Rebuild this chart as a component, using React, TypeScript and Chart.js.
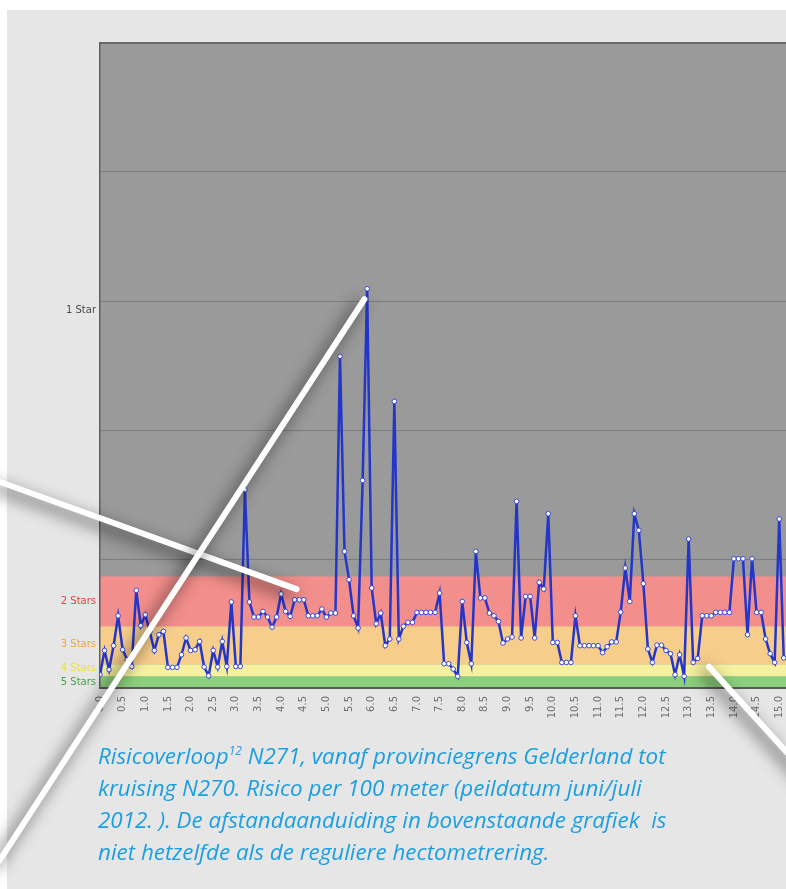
import { useEffect, useRef } from "react";
import { Chart, registerables } from "chart.js";

Chart.register(...registerables);

// distance step between measurement points (km)
const STEP_KM = 0.1;

// risk per 100 m segment (chart units)
const RISK = [
  1.03, 2.91, 1.42, 3.28, 5.6, 2.97, 2.19, 1.67, 7.57, 4.83,
  5.68, 4.36, 2.91, 4.13, 4.39, 1.6, 1.6, 1.6, 2.58, 3.88,
  2.91, 2.97, 3.61, 1.63, 0.95, 2.91, 1.63, 3.61, 1.67, 6.67,
  1.67, 1.67, 15.37, 6.67, 5.5, 5.5, 5.94, 5.5, 4.71, 5.5,
  7.29, 5.94, 5.55, 6.84, 6.84, 6.84, 5.6, 5.6, 5.6, 6.12,
  5.5, 5.81, 5.81, 25.71, 10.59, 8.4, 5.6, 4.65, 16.09, 30.95,
  7.75, 4.98, 5.81, 3.28, 3.8, 22.22, 3.8, 4.78, 5.09, 5.09,
  5.86, 5.86, 5.86, 5.86, 5.86, 7.36, 1.88, 1.88, 1.47, 0.9,
  6.71, 3.53, 1.88, 10.59, 6.98, 6.98, 5.81, 5.6, 5.16, 3.49,
  3.8, 3.95, 14.47, 3.88, 7.1, 7.1, 3.88, 8.19, 7.67, 13.51,
  3.53, 3.53, 1.98, 1.98, 1.98, 5.6, 3.28, 3.28, 3.28, 3.28,
  3.28, 2.74, 3.2, 3.57, 3.57, 5.88, 9.3, 6.71, 13.51, 12.22,
  8.09, 3.02, 1.98, 3.32, 3.32, 2.91, 2.66, 1.03, 2.58, 0.9,
  11.55, 1.98, 2.29, 5.6, 5.6, 5.6, 5.86, 5.86, 5.86, 5.86,
  10.02, 10.02, 10.02, 4.13, 10.02, 5.86, 5.86, 3.8, 2.66, 1.98,
  13.1, 2.33,
];

const X_TICKS = [
  0, 0.5, 1, 1.5, 2, 2.5, 3, 3.5, 4, 4.5, 5, 5.5, 6, 6.5, 7, 7.5, 8, 8.5,
  9, 9.5, 10, 10.5, 11, 11.5, 12, 12.5, 13, 13.5, 14, 14.5, 15,
];
const X_MAX = 15.15;
const Y_MAX = 50;

const GRID_LEVELS = [10, 20, 30, 40];
const STAR_LABELS = ["1 Star", "2 Stars", "3 Stars", "4 Stars", "5 Stars"];
const STAR_LABEL_LEVELS = [29.25, 6.71, 3.36, 1.55, 0.43];
const STAR_LABEL_COLORS = ["#4a4a4a", "#e2443e", "#f0a43c", "#ece03a", "#44a446"];

// bands from bottom: 5 stars (green), 4 (yellow), 3 (orange), 2 (red)
const BAND_EDGES = [0, 0.91, 1.84, 4.79, 8.65];
const BAND_COLORS = ["#8ccf7c", "#f6f19f", "#f6cd8b", "#f28e8b"];

// white callout pointers, [km, risk] in chart units
const CALLOUTS = [
  { from: [-2.22, 15.99], to: [4.34, 7.66] },
  { from: [-2.22, -13.39], to: [5.84, 30.14] },
  { from: [13.45, 1.65], to: [16.12, -8.66] },
];

const CAPTION_LINES = [
  ["Risicoverloop", "12", " N271, vanaf provinciegrens Gelderland tot"],
  ["kruising N270. Risico per 100 meter (peildatum juni/juli"],
  ["2012. ). De afstandaanduiding in bovenstaande grafiek  is"],
  ["niet hetzelfde als de reguliere hectometrering."],
];

const backdrop = {
  id: "backdrop",
  beforeDraw(chart: any) {
    const { ctx, chartArea: a, scales } = chart;
    const y = scales.y;
    ctx.save();
    ctx.fillStyle = "#9a9a9a";
    ctx.fillRect(a.left, a.top, a.right - a.left, a.bottom - a.top);
    for (let i = 0; i < BAND_COLORS.length; i++) {
      const top = y.getPixelForValue(BAND_EDGES[i + 1]);
      const bottom = y.getPixelForValue(BAND_EDGES[i]);
      ctx.fillStyle = BAND_COLORS[i];
      ctx.fillRect(a.left, top, a.right - a.left, bottom - top);
    }
    ctx.strokeStyle = "#6a6a6a";
    ctx.lineWidth = 2;
    ctx.beginPath();
    ctx.moveTo(a.left, a.top);
    ctx.lineTo(a.right, a.top);
    ctx.stroke();
    ctx.restore();
  },
};

const pointers = {
  id: "pointers",
  afterDraw(chart: any) {
    const { ctx, scales } = chart;
    const x = scales.x;
    const y = scales.y;
    ctx.save();
    ctx.strokeStyle = "#ffffff";
    ctx.lineWidth = 6;
    ctx.lineCap = "round";
    ctx.shadowColor = "rgba(0,0,0,0.75)";
    ctx.shadowBlur = 16;
    ctx.shadowOffsetX = -5;
    ctx.shadowOffsetY = 5;
    for (const c of CALLOUTS) {
      ctx.beginPath();
      ctx.moveTo(x.getPixelForValue(c.from[0]), y.getPixelForValue(c.from[1]));
      ctx.lineTo(x.getPixelForValue(c.to[0]), y.getPixelForValue(c.to[1]));
      ctx.stroke();
    }
    ctx.restore();
  },
};

export default function App() {
  const ref = useRef<HTMLCanvasElement | null>(null);

  useEffect(() => {
    if (!ref.current) return;
    const yTicks = [...STAR_LABEL_LEVELS, ...GRID_LEVELS].sort((a, b) => a - b);
    const chart = new Chart(ref.current, {
      type: "line",
      data: {
        datasets: [
          {
            data: RISK.map((v, i) => ({ x: Math.round(i * STEP_KM * 10) / 10, y: v })),
            borderColor: "#2436c8",
            borderWidth: 2.5,
            tension: 0,
            pointRadius: 2.3,
            pointBackgroundColor: "#ffffff",
            pointBorderColor: "#3a4ad8",
            pointBorderWidth: 1,
          },
        ],
      },
      options: {
        responsive: false,
        animation: false,
        devicePixelRatio: 1,
        layout: { autoPadding: false, padding: { top: 43, right: 0, left: 0, bottom: 0 } },
        plugins: { legend: { display: false }, tooltip: { enabled: false } },
        scales: {
          x: {
            type: "linear",
            min: 0,
            max: X_MAX,
            afterBuildTicks: (s: any) => {
              s.ticks = X_TICKS.map((v) => ({ value: v }));
            },
            afterFit: (s: any) => {
              s.height = 201;
              s.paddingLeft = 0;
              s.paddingRight = 0;
            },
            grid: { display: false, drawTicks: false },
            border: { color: "#5a5a5a", width: 2 },
            ticks: {
              autoSkip: false,
              minRotation: 90,
              maxRotation: 90,
              padding: 8,
              color: "#6e6e6e",
              font: { family: "DejaVu Sans", size: 10 },
              callback: (v: any) => Number(v).toFixed(1),
            },
          },
          y: {
            min: 0,
            max: Y_MAX,
            afterBuildTicks: (s: any) => {
              s.ticks = yTicks.map((v) => ({ value: v }));
            },
            afterFit: (s: any) => {
              s.width = 100;
              s.paddingTop = 0;
              s.paddingBottom = 0;
            },
            grid: {
              drawTicks: false,
              lineWidth: 1,
              color: (c: any) =>
                c.tick && GRID_LEVELS.includes(c.tick.value) ? "#7c7c7c" : "rgba(0,0,0,0)",
            },
            border: { color: "#5e5e5e", width: 1.5 },
            ticks: {
              autoSkip: false,
              padding: 4,
              font: { family: "DejaVu Sans", size: 10 },
              color: (c: any) => {
                const i = STAR_LABEL_LEVELS.indexOf(c.tick?.value);
                return i >= 0 ? STAR_LABEL_COLORS[i] : "rgba(0,0,0,0)";
              },
              callback: (v: any) => {
                const i = STAR_LABEL_LEVELS.indexOf(Number(v));
                return i >= 0 ? STAR_LABELS[i] : "";
              },
            },
          },
        },
      },
      plugins: [backdrop, pointers],
    } as any);
    return () => chart.destroy();
  }, []);

  return (
    <div
      style={{
        position: "absolute",
        left: 0,
        top: 0,
        width: 786,
        height: 889,
        overflow: "hidden",
        background: "#ffffff",
      }}
    >
      <div
        style={{
          position: "absolute",
          left: 7,
          top: 10,
          right: 0,
          bottom: 0,
          background: "#e6e6e6",
        }}
      />
      <canvas
        ref={ref}
        width={786}
        height={889}
        style={{ position: "absolute", left: 0, top: 0, width: 786, height: 889 }}
      />
      <div
        style={{
          position: "absolute",
          left: 98,
          top: 740,
          fontFamily: "'Open Sans', Lato, sans-serif",
          fontStyle: "italic",
          fontSize: 22.4,
          lineHeight: "32px",
          color: "#1c9fe0",
          whiteSpace: "pre",
        }}
      >
        {CAPTION_LINES.map((parts, i) => (
          <div key={i}>
            {parts.length === 3 ? (
              <>
                {parts[0]}
                <span style={{ fontSize: 12, position: "relative", top: -9, lineHeight: 0 }}>
                  {parts[1]}
                </span>
                {parts[2]}
              </>
            ) : (
              parts[0]
            )}
          </div>
        ))}
      </div>
    </div>
  );
}
